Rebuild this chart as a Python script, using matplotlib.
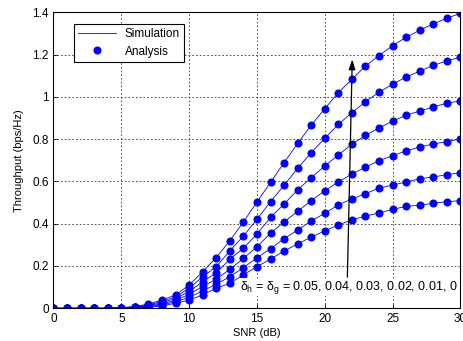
import matplotlib
matplotlib.use("Agg")
import matplotlib.pyplot as plt
from matplotlib.ticker import FormatStrFormatter

plt.rcParams["font.family"] = ["Liberation Sans", "DejaVu Sans"]
plt.rcParams["mathtext.fontset"] = "custom"
plt.rcParams["mathtext.rm"] = "Liberation Sans"
plt.rcParams["mathtext.it"] = "Liberation Sans"

snr = list(range(0, 31))

# throughput curves, delta = 0 (top) ... 0.05 (bottom)
thr_000 = [0, 0, 0, 0, 0, 0.003, 0.008, 0.020, 0.039, 0.063, 0.110, 0.173, 0.240,
           0.320, 0.408, 0.503, 0.595, 0.689, 0.780, 0.866, 0.944, 1.020, 1.083,
           1.146, 1.195, 1.242, 1.282, 1.315, 1.345, 1.372, 1.395]
thr_001 = [0, 0, 0, 0, 0, 0.002, 0.007, 0.016, 0.032, 0.054, 0.095, 0.149, 0.197,
           0.271, 0.342, 0.421, 0.504, 0.582, 0.662, 0.736, 0.804, 0.870, 0.925,
           0.977, 1.022, 1.060, 1.094, 1.121, 1.149, 1.170, 1.187]
thr_002 = [0, 0, 0, 0, 0, 0.002, 0.005, 0.013, 0.026, 0.046, 0.080, 0.125, 0.168,
           0.232, 0.284, 0.351, 0.430, 0.493, 0.560, 0.618, 0.673, 0.725, 0.776,
           0.818, 0.853, 0.885, 0.913, 0.933, 0.952, 0.970, 0.981]
thr_003 = [0, 0, 0, 0, 0, 0.001, 0.004, 0.010, 0.021, 0.038, 0.066, 0.103, 0.138,
           0.184, 0.236, 0.291, 0.355, 0.408, 0.459, 0.509, 0.556, 0.597, 0.635,
           0.667, 0.698, 0.722, 0.744, 0.763, 0.777, 0.788, 0.801]
thr_004 = [0, 0, 0, 0, 0, 0.001, 0.003, 0.007, 0.016, 0.031, 0.052, 0.082, 0.114,
           0.149, 0.192, 0.239, 0.282, 0.329, 0.370, 0.413, 0.449, 0.489, 0.517,
           0.542, 0.568, 0.583, 0.597, 0.613, 0.621, 0.632, 0.641]
thr_005 = [0, 0, 0, 0, 0, 0.001, 0.002, 0.005, 0.011, 0.024, 0.039, 0.063, 0.095,
           0.118, 0.158, 0.197, 0.232, 0.271, 0.304, 0.337, 0.366, 0.394, 0.418,
           0.436, 0.451, 0.468, 0.482, 0.487, 0.497, 0.504, 0.509]
curves = [thr_000, thr_001, thr_002, thr_003, thr_004, thr_005]

fig = plt.figure(figsize=(4.64, 3.41), dpi=100)
ax = fig.add_axes([0.1153, 0.096, 0.877, 0.868])

for i, vals in enumerate(curves):
    ax.plot(snr, vals, color="#0000FF", linewidth=0.6,
            label="Simulation" if i == 0 else None)
for i, vals in enumerate(curves):
    ax.plot(snr, vals, linestyle="none", marker="o", markersize=4.8,
            color="#0000FF", label="Analysis" if i == 0 else None)

ax.set_xlim(0, 30)
ax.set_ylim(0, 1.4)
ax.set_xticks([0, 5, 10, 15, 20, 25, 30])
ax.set_yticks([0, 0.2, 0.4, 0.6, 0.8, 1.0, 1.2, 1.4])
ax.yaxis.set_major_formatter(FormatStrFormatter("%g"))
ax.tick_params(direction="in", labelsize=8.5, length=3, width=0.6)
ax.grid(True, color="#333333", linestyle=(0, (2, 2.5)), linewidth=0.6)
for s in ax.spines.values():
    s.set_linewidth(0.8)

ax.set_xlabel("SNR (dB)", fontsize=8, labelpad=2)
ax.set_ylabel("Throughput (bps/Hz)", fontsize=8, labelpad=6)

ax.annotate("", xy=(22.03, 1.19), xytext=(21.66, 0.134),
            arrowprops=dict(arrowstyle="-|>,head_length=0.6,head_width=0.2",
                            color="black", linewidth=0.9))
ax.text(21.75, 0.1, r"$\delta_h$ = $\delta_g$ = 0.05, 0.04, 0.03, 0.02, 0.01, 0",
        fontsize=9, ha="center", va="center",
        bbox=dict(facecolor="white", edgecolor="none", pad=0.5))

leg = ax.legend(loc="upper left", bbox_to_anchor=(0.035, 0.98), fontsize=8.5,
                fancybox=False, edgecolor="black", framealpha=1,
                handlelength=3.2, borderpad=0.35, labelspacing=0.45)
leg.get_frame().set_linewidth(0.8)

fig.savefig("out.png", dpi=100)
